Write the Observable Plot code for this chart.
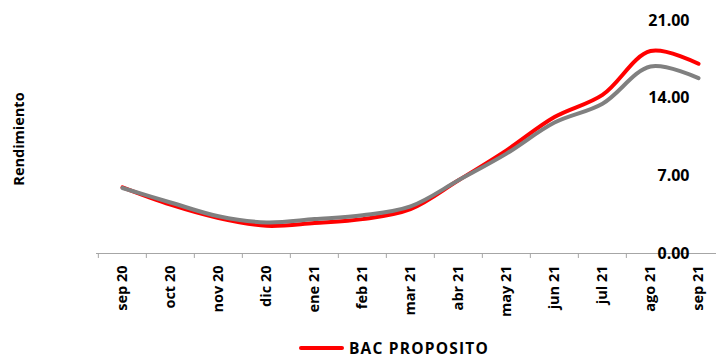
<!DOCTYPE html>
<html><head><meta charset="utf-8">
<script src="https://cdn.jsdelivr.net/npm/d3@7"></script>
<script src="https://cdn.jsdelivr.net/npm/@observablehq/plot@0.6"></script>
<style>
body{margin:0;background:#fff;font-family:"Open Sans",sans-serif;}
#chart{width:716px;height:358px;position:relative;overflow:hidden;}
.legend{position:absolute;left:299px;top:340px;height:16px;line-height:16px;display:flex;align-items:center;font-weight:bold;font-size:15.5px;color:#000;letter-spacing:1.2px;}
.legend span.sw{display:inline-block;width:45px;height:4px;background:#ff0000;border-radius:2px;margin-right:5px;}
.ylab{position:absolute;left:18px;top:139px;transform:translate(-50%,-50%) rotate(-90deg);font-weight:bold;font-size:14.5px;white-space:nowrap;color:#000;}
</style></head>
<body><div id="chart"></div>
<script>
const months = ["sep 20","oct 20","nov 20","dic 20","ene 21","feb 21","mar 21","abr 21","may 21","jun 21","jul 21","ago 21","sep 21"];
const bacProposito = [5.96, 4.4, 3.2, 2.5, 2.75, 3.1, 4.0, 6.6, 9.3, 12.3, 14.3, 18.25, 17.1];
const benchmark = [5.9, 4.6, 3.35, 2.8, 3.1, 3.45, 4.25, 6.6, 9.0, 11.8, 13.5, 16.85, 15.8];
const yTicks = [0, 7, 14, 21];

const redData = months.map((m,i)=>({m, v: bacProposito[i]}));
const grayData = months.map((m,i)=>({m, v: benchmark[i]}));

const chart = Plot.plot({
  width: 716, height: 338,
  marginLeft: 96, marginRight: 0, marginTop: 20, marginBottom: 85,
  x: {type: "band", domain: months, range: [96, 724], padding: 0, axis: null},
  y: {domain: [0, 21], range: [253, 20], axis: null},
  style: {fontFamily: "'Open Sans', sans-serif", color: "#000", background: "#fff"},
  marks: [
    Plot.ruleY([0], {stroke: "#a6a6a6", strokeWidth: 1}),
    Plot.ruleX(months, {x: d => d, dx: -24.15, y1: 0, y2: -0.45, stroke: "#a6a6a6"}),
    Plot.axisX({tickSize: 0, tickPadding: 12, tickRotate: -90, fontSize: 14.5, fontWeight: "bold", label: null}),
    Plot.line(redData, {x: "m", y: "v", stroke: "#ff0000", strokeWidth: 4, curve: "catmull-rom"}),
    Plot.line(grayData, {x: "m", y: "v", stroke: "#808080", strokeWidth: 4, curve: "catmull-rom"}),
    Plot.text(yTicks, {y: d => d, text: d => d.toFixed(2), frameAnchor: "right", textAnchor: "end", dx: -27, fontSize: 16, fontWeight: "bold"})
  ]
});
document.getElementById("chart").appendChild(chart);
const yl = document.createElement("div");
yl.className = "ylab"; yl.textContent = "Rendimiento";
document.getElementById("chart").appendChild(yl);
const lg = document.createElement("div");
lg.className = "legend";
lg.innerHTML = '<span class="sw"></span><span>BAC PROPOSITO</span>';
document.getElementById("chart").appendChild(lg);
</script></body></html>
